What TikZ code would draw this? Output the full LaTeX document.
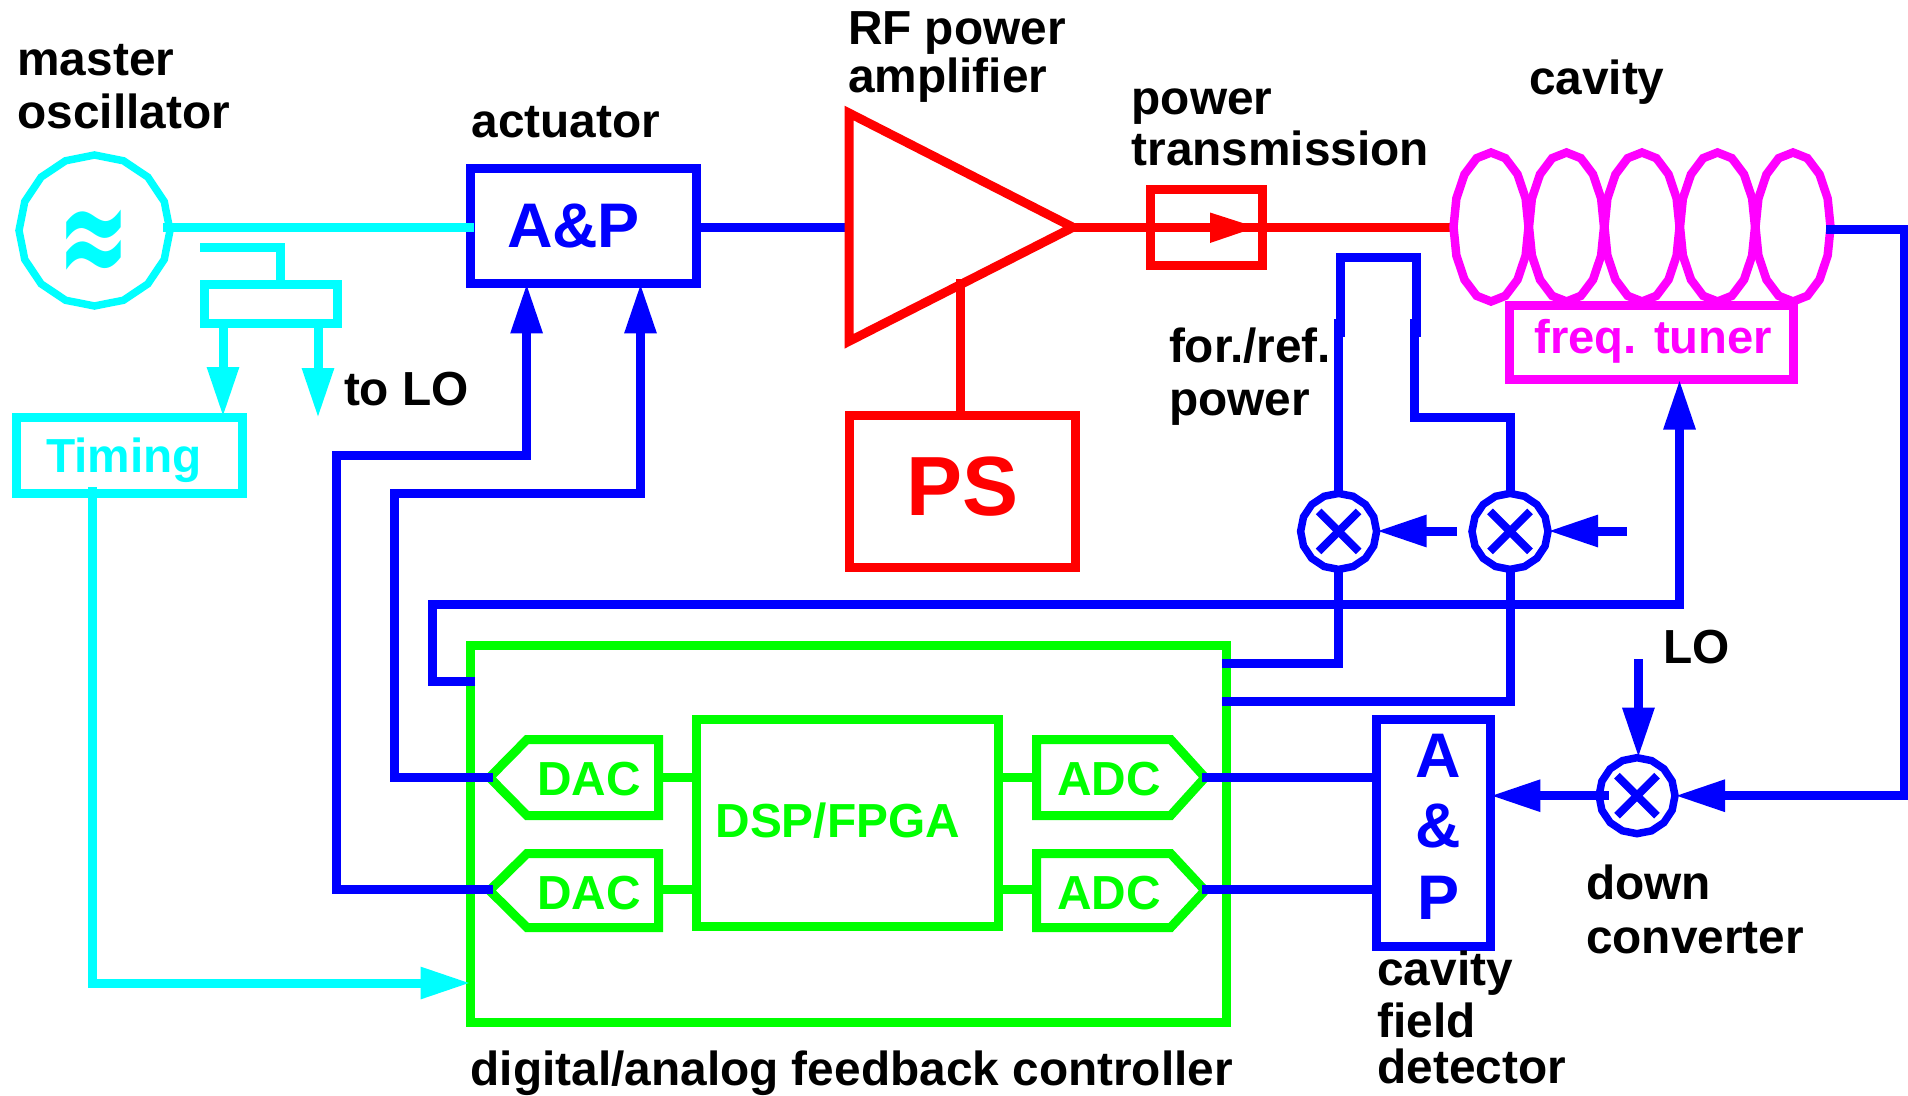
\documentclass[tikz,border=0pt]{standalone}
\usepackage{fontspec}
\setmainfont{Liberation Sans}
\newfontfamily\symfont{DejaVu Sans}
\usetikzlibrary{arrows.meta,shapes.geometric}
\definecolor{cy}{RGB}{0,255,255}
\definecolor{bl}{RGB}{0,0,255}
\definecolor{rd}{RGB}{255,0,0}
\definecolor{gr}{RGB}{0,255,0}
\definecolor{mg}{RGB}{255,0,255}
\tikzset{
  wire/.style={line width=9pt,line cap=butt,line join=miter},
  headed/.style={-{Triangle[length=50pt,width=30pt]}},
  boxed/.style={draw,rectangle,line width=9pt,inner sep=0pt,outer sep=0pt,fill=white},
  poly/.style={draw,regular polygon,regular polygon sides=16,shape border rotate=11.25,line width=7.5pt,inner sep=0pt,outer sep=0pt,fill=white},
  mixer/.style={poly,draw=bl,minimum size=76pt},
  lbl/.style={inner sep=0pt,outer sep=0pt,align=left,anchor=base west,font=\bfseries\fontsize{47.8}{53}\selectfont},
  big/.style={lbl,font=\bfseries\fontsize{63}{71}\selectfont},
  xmark/.style={wire,line width=8pt,bl},
}
\begin{document}
\begin{tikzpicture}[x=1pt,y=-1pt]
\path[use as bounding box,fill=white] (0,0) rectangle (1908,1095);

% ---------- coordinates for free ends and junctions
\coordinate (oscout) at (163,227.3);
\coordinate (apin) at (474,227.3);
\coordinate (apout) at (696,227.3);
\coordinate (ampin) at (853,227.3);
\coordinate (ampa) at (849,113);
\coordinate (ampb) at (849,341.3);
\coordinate (amptip) at (1073,227.3);
\coordinate (cavin) at (1457,227.3);
\coordinate (cavout) at (1826,229.6);
\coordinate (cavr) at (1904,229.6);

% ---------- oscillator & coupler
\node[poly,draw=cy,minimum size=151pt] (osc) at (94.5,230.5) {};
\node[text=cy,inner sep=0pt] (osct) at (94,248) {\symfont\bfseries\fontsize{87}{87}\selectfont\scalebox{1}[1.7]{≈}};
\node[boxed,draw=cy,minimum width=133pt,minimum height=38.5pt] (coup) at (270.5,304.2) {};
\coordinate (coupa) at (200,247.5);
\coordinate (coupb) at (280.5,247.5);
\coordinate (tolo) at (318,418);
\coordinate (tmtop) at (223,417);
\draw[wire,cy] (coupa) -- (coupb) -- (coupb |- coup.north);
\node[boxed,draw=cy,minimum width=226.5pt,minimum height=76pt] (tim) at (129.7,455.5) {};
\node[lbl,text=cy] (timt) at (46,472) {Timing};
\draw[wire,cy,headed] (coup.south -| tmtop) -- (tmtop);
\draw[wire,cy,headed] (coup.south -| tolo) -- (tolo);
\node[lbl] (toloT) at (344,405) {to LO};
\node[lbl] (mo) at (17.5,128) {master\\oscillator};

% ---------- controller
\node[boxed,draw=gr,minimum width=756pt,minimum height=377.5pt] (ctl) at (848.5,834.2) {};
\node[boxed,draw=gr,minimum width=302pt,minimum height=207.5pt] (dsp) at (847.5,823.2) {};
\coordinate (d1t) at (489.5,777.5); \coordinate (d1a) at (527,739.5); \coordinate (d1b) at (658.5,739.5); \coordinate (d1c) at (658.5,815.5); \coordinate (d1d) at (527,815.5);
\coordinate (d2t) at (489.5,890.5); \coordinate (d2a) at (527,853.5); \coordinate (d2b) at (658.5,853.5); \coordinate (d2c) at (658.5,927.5); \coordinate (d2d) at (527,927.5);
\coordinate (a1t) at (1205,777.5); \coordinate (a1a) at (1170.6,739.5); \coordinate (a1b) at (1036.5,739.5); \coordinate (a1c) at (1036.5,815.5); \coordinate (a1d) at (1170.6,815.5);
\coordinate (a2t) at (1205,890.5); \coordinate (a2a) at (1170.6,853.5); \coordinate (a2b) at (1036.5,853.5); \coordinate (a2c) at (1036.5,927.5); \coordinate (a2d) at (1170.6,927.5);
\draw[wire,gr] (d1t) -- (d1a) -- (d1b) -- (d1c) -- (d1d) -- cycle;
\draw[wire,gr] (d2t) -- (d2a) -- (d2b) -- (d2c) -- (d2d) -- cycle;
\draw[wire,gr] (a1t) -- (a1a) -- (a1b) -- (a1c) -- (a1d) -- cycle;
\draw[wire,gr] (a2t) -- (a2a) -- (a2b) -- (a2c) -- (a2d) -- cycle;
\coordinate (y1) at (0,777); \coordinate (y2) at (0,889.3);
\draw[wire,gr] (d1b |- y1) -- (dsp.west |- y1);
\draw[wire,gr] (d2b |- y2) -- (dsp.west |- y2);
\draw[wire,gr] (dsp.east |- y1) -- (a1b |- y1);
\draw[wire,gr] (dsp.east |- y2) -- (a2b |- y2);
\node[lbl,text=gr] (dac1) at (537,795.7) {DAC};
\node[lbl,text=gr] (dac2) at (537,909.3) {DAC};
\node[lbl,text=gr] (adc1) at (1057,795.7) {ADC};
\node[lbl,text=gr] (adc2) at (1057,909.3) {ADC};
\node[lbl,text=gr] (dspt) at (715.5,837) {DSP/FPGA};
\node[lbl] (ctlt) at (470.6,1085) {digital/analog feedback controller};

% ---------- timing into controller
\coordinate (tima) at (92.3,487);
\coordinate (timb) at (92.3,983);
\draw[wire,cy,headed] (tima) -- (timb) -- (ctl.west |- timb);

% ---------- actuator
\node[boxed,draw=bl,minimum width=226pt,minimum height=114.5pt] (ap) at (583.5,226.2) {};
\draw[wire,cy] (oscout) -- (apin);
\node[big,text=bl] (apt) at (507,247) {A\&P};
\node[lbl] (act) at (471.5,137) {actuator};
\coordinate (a1x) at (526.6,455); \coordinate (a1y) at (336.5,455);
\coordinate (a2x) at (640.5,493); \coordinate (a2y) at (394.4,493);
\coordinate (d1o) at (492.5,777); \coordinate (d2o) at (492.5,889.3);
\draw[wire,bl,headed] (d2o) -- (a1y |- d2o) -- (a1y) -- (a1x) -- (ap.south -| a1x);
\draw[wire,bl,headed] (d1o) -- (a2y |- d1o) -- (a2y) -- (a2x) -- (ap.south -| a2x);
\draw[wire,bl] (apout) -- (ampin);

% ---------- amplifier and PS
\node[boxed,draw=rd,minimum width=226pt,minimum height=152pt] (ps) at (962,491) {};
\node[lbl,text=rd,font=\bfseries\fontsize{84}{84}\selectfont] (pst) at (906,515) {PS};
\coordinate (amppx) at (960,279);
\draw[wire,rd] (amppx) -- (amppx |- ps.north);
\draw[wire,rd] (ampa) -- (amptip) -- (ampb) -- cycle;
\node[lbl] (rf) at (848,92.7) {RF power\\[-4.6pt]amplifier};

% ---------- transmission
\node[boxed,draw=rd,fill=none,minimum width=112pt,minimum height=75.6pt] (tr) at (1206.4,227.2) {};
\coordinate (trtip) at (1256,227.3);
\draw[wire,rd] (amptip) -- (cavin);
\fill[rd] (trtip) -- (1210,212.5) -- (1210,243) -- cycle;
\node[lbl] (trt) at (1131.6,165.7) {power\\[-1.3pt]transmission};

% ---------- cavity
\foreach \c in {1491,1566.5,1642,1717.5,1793}{
  \draw[line width=8.5pt,mg,line join=miter] plot[domain=0:337.5,samples=16] ({\c+37.5*sin(\x)},{227+74.5*cos(\x)}) -- cycle;
}
\node[lbl] (cavt) at (1529,94) {cavity};
\node[boxed,draw=mg,minimum width=284pt,minimum height=74pt] (tun) at (1651,342.5) {};
\node[lbl,text=mg,font=\bfseries\fontsize{47.2}{53}\selectfont] (tunt) at (1534.4,353) {freq. tuner};

% ---------- cavity output, down converter
\node[mixer] (m3) at (1637,795.7) {};
\draw[xmark] ([shift={(-20,-20)}]m3.center) -- ([shift={(20,20)}]m3.center);
\draw[xmark] ([shift={(20,-20)}]m3.center) -- ([shift={(-20,20)}]m3.center);
\node[boxed,draw=bl,minimum width=113.5pt,minimum height=227.5pt] (det) at (1433.7,833.2) {};
\coordinate (o1) at (1202,777); \coordinate (o2) at (1202,889.3);
\draw[wire,bl] (o1) -- (det.west |- o1);
\draw[wire,bl] (o2) -- (det.west |- o2);
\node[big,text=bl,anchor=base] (deta) at (1438,777) {A};
\node[big,text=bl,anchor=base] (detb) at (1438,847.7) {\&};
\node[big,text=bl,anchor=base] (detc) at (1438,919.3) {P};
\node[lbl] (dett) at (1377.4,1083) {cavity\\[-1pt]field\\[-7pt]detector};
\coordinate (lo3) at (1638.4,659);
\draw[wire,bl,headed] (lo3) -- (m3.north -| lo3);
\node[lbl] (lot) at (1663.6,663) {LO};
\node[lbl] (dct) at (1586,953) {down\\[1pt]converter};
\draw[wire,bl,headed] (cavout) -- (cavr) -- (cavr |- m3) -- (m3.east);
\coordinate (m3in) at (1608.6,795.7);
\draw[wire,bl,headed] (m3in) -- (det.east |- m3in);

% ---------- mixers and power pickup
\node[mixer] (m1) at (1338.6,531.4) {};
\node[mixer] (m2) at (1510,531.4) {};
\foreach \m in {m1,m2}{
  \draw[xmark] ([shift={(-20,-20)}]\m.center) -- ([shift={(20,20)}]\m.center);
  \draw[xmark] ([shift={(20,-20)}]\m.center) -- ([shift={(-20,20)}]\m.center);
}
\coordinate (p1) at (1340.5,337); \coordinate (p2) at (1340.5,257); \coordinate (p3) at (1416,257); \coordinate (p4) at (1416,337);
\coordinate (q1) at (1338.6,319); \coordinate (q2) at (1414.6,319); \coordinate (q3) at (1414.6,417); \coordinate (q4) at (1510,417);
\draw[wire,bl] (p1) -- (p2) -- (p3) -- (p4);
\draw[wire,bl] (q1) -- (m1.north);
\draw[wire,bl] (q2) -- (q3) -- (q4) -- (m2.north);
\coordinate (c1) at (1222,663.3); \coordinate (c2) at (1222,701);
\draw[wire,bl] (c1) -- (m1.south |- c1) -- (m1.south);
\draw[wire,bl] (c2) -- (m2.south |- c2) -- (m2.south);
\coordinate (lo1) at (1457,531); \coordinate (lo2) at (1627,531);
\draw[wire,bl,headed] (lo1) -- (m1.east |- lo1);
\draw[wire,bl,headed] (lo2) -- (m2.east |- lo2);
\node[lbl] (frt) at (1169,415) {for./ref.\\power};

% ---------- tuner feedback
\coordinate (f1) at (475,681.7); \coordinate (f2) at (432,681.7); \coordinate (f3) at (432,604.8); \coordinate (f4) at (1679.5,604.8);
\draw[wire,bl,headed] (f1) -- (f2) -- (f3) -- (f4) -- (f4 |- tun.south);
\end{tikzpicture}
\end{document}
